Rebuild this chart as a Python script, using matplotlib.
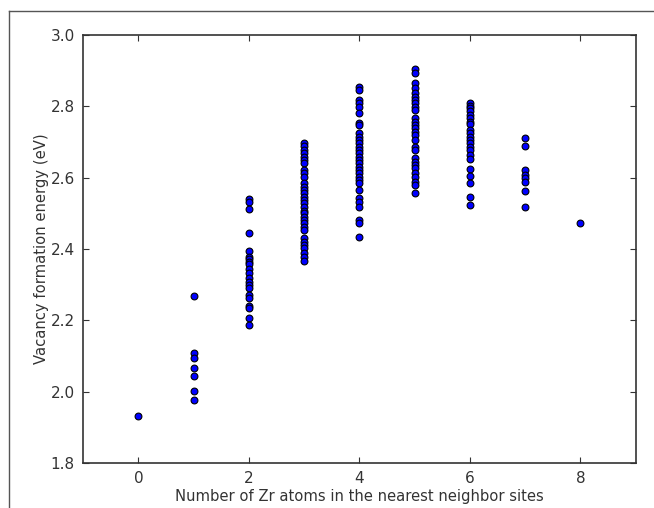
import numpy as np
import matplotlib.pyplot as plt
from matplotlib.lines import Line2D

# Vacancy formation energies (eV) grouped by number of Zr nearest neighbours
e0 = [1.932]
e1 = [2.268, 2.108, 2.095, 2.067, 2.043, 2.003, 1.978]
e2 = [2.540, 2.533, 2.511, 2.444, 2.393, 2.378, 2.372, 2.364, 2.358, 2.343,
      2.334, 2.318, 2.308, 2.299, 2.290, 2.270, 2.264, 2.241, 2.234, 2.207, 2.187]
e3 = [2.698, 2.689, 2.678, 2.668, 2.659, 2.650, 2.642, 2.622, 2.612, 2.603,
      2.586, 2.575, 2.565, 2.556, 2.547, 2.537, 2.528, 2.517, 2.507, 2.500,
      2.491, 2.481, 2.472, 2.463, 2.453, 2.430, 2.420, 2.411, 2.402, 2.388,
      2.378, 2.367]
e4 = [2.853, 2.846, 2.818, 2.810, 2.799, 2.780, 2.754, 2.748, 2.724, 2.715,
      2.706, 2.696, 2.687, 2.678, 2.668, 2.659, 2.650, 2.640, 2.631, 2.622,
      2.612, 2.603, 2.594, 2.584, 2.565, 2.542, 2.533, 2.519, 2.481, 2.474, 2.433]
e5 = [2.904, 2.894, 2.865, 2.851, 2.837, 2.827, 2.818, 2.808, 2.799, 2.790,
      2.766, 2.757, 2.748, 2.738, 2.729, 2.720, 2.706, 2.687, 2.678, 2.654,
      2.645, 2.636, 2.626, 2.612, 2.603, 2.589, 2.579, 2.556]
e6 = [2.808, 2.801, 2.794, 2.788, 2.776, 2.766, 2.757, 2.750, 2.734, 2.724,
      2.715, 2.706, 2.696, 2.687, 2.678, 2.664, 2.651, 2.623, 2.605, 2.584,
      2.547, 2.523]
e7 = [2.710, 2.689, 2.622, 2.607, 2.598, 2.589, 2.563, 2.519]
e8 = [2.472]

groups = [e0, e1, e2, e3, e4, e5, e6, e7, e8]
n_zr = np.concatenate([[i] * len(g) for i, g in enumerate(groups)])
energy = np.concatenate(groups)

fig = plt.figure(figsize=(6.54, 5.08), dpi=100)
ax = fig.add_axes([0.127, 0.0886, 0.845, 0.8425])

ax.scatter(n_zr, energy, s=24, c='#0000ff', edgecolors='black', linewidths=0.8, zorder=3)

ax.set_xlim(-1, 9)
ax.set_ylim(1.8, 3.0)
ax.set_xticks([0, 2, 4, 6, 8])
ax.set_yticks(np.arange(1.8, 3.01, 0.2))
ax.set_yticklabels([f'{v:.1f}' for v in np.arange(1.8, 3.01, 0.2)])
ax.tick_params(direction='in', top=True, right=True, length=4, width=0.8,
               labelsize=11, colors='#333333', pad=6)
for sp in ax.spines.values():
    sp.set_linewidth(1.2)
    sp.set_color('#333333')

ax.set_xlabel('Number of Zr atoms in the nearest neighbor sites', fontsize=10.6,
              color='#333333', labelpad=2)
ax.set_ylabel('Vacancy formation energy (eV)', fontsize=10.6, color='#333333', labelpad=1)

# thin frame of the screenshot
fig.add_artist(Line2D([9 / 654, 1], [1 - 11 / 508, 1 - 11 / 508], color='#555555', lw=1))
fig.add_artist(Line2D([9 / 654, 9 / 654], [0, 1 - 11 / 508], color='#555555', lw=1))

plt.savefig('out.png', dpi=100)
